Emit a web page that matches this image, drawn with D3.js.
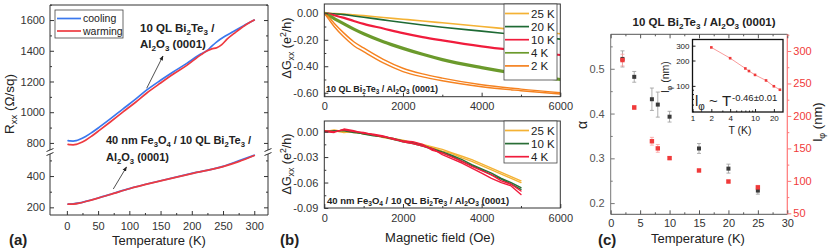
<!DOCTYPE html>
<html>
<head>
<meta charset="utf-8">
<script src="https://cdn.jsdelivr.net/npm/d3@7"></script>
<style>
body { margin: 0; background: #fff; }
svg { display: block; font-family: "Liberation Sans", Arial, sans-serif; }
</style>
</head>
<body>
<script>
// ---------- (a) sheet resistance vs temperature ----------
var upCoolT = [2, 5, 10, 15, 20, 30, 40, 53, 70, 90, 110, 128, 150, 170, 192, 215, 224, 232, 240, 253, 266, 283, 300];
var upCoolR = [815, 813, 812, 815, 822, 842, 868, 906, 958, 1022, 1085, 1145, 1208, 1262, 1318, 1380, 1400, 1430, 1458, 1494, 1524, 1563, 1600];
var upWarmT = [2, 5, 10, 15, 20, 30, 40, 53, 70, 90, 110, 128, 150, 170, 192, 215, 224, 232, 240, 248, 256, 270, 285, 300];
var upWarmR = [791, 789, 788, 791, 798, 818, 845, 885, 938, 1002, 1065, 1125, 1190, 1247, 1305, 1375, 1398, 1412, 1420, 1440, 1474, 1520, 1565, 1600];
var loCoolT = [2, 10, 20, 30, 50, 75, 100, 150, 200, 250, 275, 300];
var loCoolR = [221, 222, 228, 238, 260, 290, 320, 370, 417, 462, 497, 533];
var loWarmT = [2, 10, 20, 30, 50, 75, 100, 150, 200, 250, 275, 300];
var loWarmR = [220, 221, 227, 237, 259, 289, 319, 369, 416, 460, 492, 531];
var aTempTicks = [0, 50, 100, 150, 200, 250, 300];
var aUpTicks = [800, 1000, 1200, 1400, 1600];
var aLoTicks = [200, 400];

// ---------- (b) magnetoconductance ----------
var bFieldTop = [0, 100, 250, 500, 750, 1000, 1500, 2000, 2500, 3000, 4000, 5000, 6000];
var bTopNames = ['25 K', '20 K', '10 K', '4 K', '2 K'];
var g25K = [0, 0, -0.002, -0.006, -0.012, -0.018, -0.032, -0.045, -0.058, -0.072, -0.1, -0.128, -0.155];
var g20K = [0, -0.001, -0.004, -0.01, -0.02, -0.03, -0.05, -0.07, -0.088, -0.105, -0.135, -0.165, -0.195];
var g10K = [0, -0.004, -0.015, -0.035, -0.058, -0.08, -0.115, -0.15, -0.18, -0.205, -0.25, -0.285, -0.315];
var g4K = [0, -0.015, -0.04, -0.08, -0.12, -0.155, -0.215, -0.265, -0.31, -0.35, -0.41, -0.46, -0.5];
var g2Ka = [0, -0.04, -0.1, -0.18, -0.245, -0.29, -0.375, -0.44, -0.48, -0.51, -0.555, -0.585, -0.61];
var g2Kb = [0, -0.025, -0.075, -0.15, -0.215, -0.262, -0.348, -0.415, -0.458, -0.49, -0.54, -0.573, -0.6];

var bFieldBot = [0, 250, 500, 750, 1000, 1250, 1500, 1750, 2000, 2250, 2500, 2750, 3000, 3250, 3500, 3750, 4000, 4250, 4500, 4750, 5000];
var bBotNames = ['25 K', '10 K', '4 K'];
var f25Ka = [0, 0.002, 0.000, -0.001, -0.002, -0.004, -0.006, -0.008, -0.010, -0.013, -0.015, -0.018, -0.021, -0.025, -0.029, -0.033, -0.038, -0.043, -0.048, -0.053, -0.058];
var f25Kb = [0.001, 0.001, -0.001, 0.000, -0.003, -0.004, -0.007, -0.009, -0.011, -0.013, -0.016, -0.019, -0.023, -0.026, -0.031, -0.035, -0.040, -0.045, -0.050, -0.055, -0.060];
var f10Ka = [0, 0.001, 0.001, -0.001, -0.002, -0.004, -0.006, -0.008, -0.011, -0.013, -0.016, -0.020, -0.024, -0.028, -0.033, -0.039, -0.044, -0.049, -0.055, -0.060, -0.066];
var f10Kb = [0, 0, 0.002, 0, -0.003, -0.005, -0.006, -0.009, -0.012, -0.014, -0.017, -0.021, -0.025, -0.029, -0.035, -0.040, -0.045, -0.051, -0.056, -0.062, -0.068];
var f4Ka = [0, -0.001, 0.003, 0.001, -0.002, -0.003, -0.005, -0.009, -0.011, -0.012, -0.015, -0.022, -0.025, -0.030, -0.035, -0.041, -0.046, -0.051, -0.058, -0.062, -0.070];
var f4Kb = [0.001, 0, 0.002, 0, -0.001, -0.004, -0.006, -0.008, -0.012, -0.014, -0.017, -0.020, -0.027, -0.032, -0.037, -0.043, -0.049, -0.055, -0.060, -0.064, -0.074];

// ---------- (c) alpha and phase coherence length ----------
var cTemp = [2, 4, 7, 8, 10, 15, 20, 25];
var alpha = [0.522, 0.482, 0.432, 0.42, 0.393, 0.322, 0.277, 0.228];
var alphaErr = [0.018, 0.012, 0.025, 0.028, 0.012, 0.011, 0.01, 0.008];
var lphi = [286, 213, 161, 150, 135, 116, 99, 90];
var lphiErr = [9, 3, 6, 6, 2, 2, 2, 3];

var svg = d3.select('body').append('svg').attr('width', 830).attr('height', 252);
svg.append('rect').attr('width', 830).attr('height', 252).attr('fill', '#fff');

/*
/	HELPERS
*/
// tiny markup: _{sub} and ^{sup}, shifted with dy in px of the parent size
function rich(t, s, size, subSize) {
	var re = /([_^])\{([^}]*)\}|([^_^]+)/g, m, back = 0;
	var ss = subSize || size * 0.7;
	while ((m = re.exec(s))) {
		if (m[3]) {
			t.append('tspan').attr('dy', back).text(m[3]);
			back = 0;
		} else {
			var d = m[1] == '_' ? size * 0.25 : -size * 0.38;
			t.append('tspan').attr('dy', back + d).attr('font-size', ss).text(m[2]);
			back = -d;
		}
	}
	return t;
}
function label(par, x, y, s, size, opt) {
	opt = opt || {};
	var t = par.append('text')
		.attr('x', x).attr('y', y)
		.attr('font-size', size)
		.attr('font-weight', opt.bold ? 700 : 400)
		.attr('fill', opt.color || '#222')
		.attr('text-anchor', opt.anchor || 'start');
	if (opt.rotate) t.attr('transform', 'rotate(-90,' + x + ',' + y + ')');
	return rich(t, s, size, opt.sub);
}
function axis(par, make, scale, tx, ty, major, fmt, minor, tick, opt) {
	opt = opt || {};
	var g = par.append('g').attr('transform', 'translate(' + tx + ',' + ty + ')');
	g.call(make(scale).tickValues(major).tickFormat(fmt).tickSizeInner(tick).tickSizeOuter(0).tickPadding(opt.pad || 3));
	if (minor) g.append('g').call(make(scale).tickValues(minor).tickFormat(function() { return ''; }).tickSizeInner(tick / 2).tickSizeOuter(0));
	g.selectAll('.domain').remove();
	g.attr('font-family', null).attr('font-size', null);
	g.selectAll('g').attr('font-family', null).attr('font-size', null);
	g.selectAll('line').attr('stroke', opt.color || '#333');
	g.selectAll('text').attr('font-size', opt.fs || 11).attr('fill', opt.tcolor || '#333');
	return g;
}
function frame(par, x0, y0, x1, y1, col, w) {
	par.append('rect').attr('x', x0).attr('y', y0).attr('width', x1 - x0).attr('height', y1 - y0)
		.attr('fill', 'none').attr('stroke', col || '#333').attr('stroke-width', w || 1);
}
function curve(par, xs, ys, sx, sy, col, w, kind) {
	par.append('path')
		.datum(d3.zip(xs, ys))
		.attr('d', d3.line().x(function(d) { return sx(d[0]); }).y(function(d) { return sy(d[1]); }).curve(kind || d3.curveMonotoneX))
		.attr('fill', 'none').attr('stroke', col).attr('stroke-width', w)
		.attr('stroke-linejoin', 'round').attr('stroke-linecap', 'round');
}
function arrow(par, x1, y1, x2, y2) {
	par.append('line').attr('x1', x1).attr('y1', y1).attr('x2', x2).attr('y2', y2)
		.attr('stroke', '#222').attr('stroke-width', 0.8).attr('marker-end', 'url(#arr)');
}
svg.append('defs').append('marker').attr('id', 'arr')
	.attr('viewBox', '0 0 10 10').attr('refX', 9).attr('refY', 5)
	.attr('markerWidth', 6).attr('markerHeight', 6).attr('orient', 'auto')
	.append('path').attr('d', 'M0,1L10,5L0,9Z').attr('fill', '#222');
var range = function(a, b, s) { return d3.range(a, b + s / 2, s); };

/*
/	PANEL (a)
*/
var aG = svg.append('g');
var aX = d3.scaleLinear().domain([-27, 322]).range([50, 268]);
var aYU = d3.scaleLinear().domain([754, 1698]).range([150, 5]);
var aYL = d3.scaleLinear().domain([151, 541]).range([215, 154]);
var aL = aX.range()[0], aR = aX.range()[1], aTop = aYU.range()[1], aBot = aYL.range()[0];
var brkA = aYU.range()[0], brkB = aYL.range()[1];

aG.append('path')
	.attr('d', 'M' + aL + ',' + brkA + 'V' + aTop + 'H' + aR + 'V' + brkA +
		'M' + aL + ',' + brkB + 'V' + aBot + 'H' + aR + 'V' + brkB)
	.attr('fill', 'none').attr('stroke', '#333');
[aL, aR].forEach(function(x) {
	[brkA, brkB].forEach(function(y) {
		aG.append('line').attr('x1', x - 3.5).attr('y1', y + 1.5).attr('x2', x + 3.5).attr('y2', y - 1.5)
			.attr('stroke', '#333').attr('stroke-width', 1);
	});
});

axis(aG, d3.axisBottom, aX, 0, aBot, aTempTicks, d3.format('d'), range(25, 300, 50), -4, {pad: 7});
axis(aG, d3.axisLeft, aYU, aL, 0, aUpTicks, d3.format('d'), range(900, 1700, 200), -4, {pad: 5});
axis(aG, d3.axisLeft, aYL, aL, 0, aLoTicks, d3.format('d'), [300, 500], -4, {pad: 5});
axis(aG, d3.axisRight, aYU, aR, 0, aUpTicks, function() { return ''; }, range(900, 1700, 200), -4);
axis(aG, d3.axisRight, aYL, aR, 0, aLoTicks, function() { return ''; }, [300, 500], -4);

curve(aG, upCoolT, upCoolR, aX, aYU, '#3a78ee', 1.7);
curve(aG, upWarmT, upWarmR, aX, aYU, '#ee3a40', 1.7);
curve(aG, loCoolT, loCoolR, aX, aYL, '#3a78ee', 1.7);
curve(aG, loWarmT, loWarmR, aX, aYL, '#ee3a40', 1.7);

// legend
aG.append('rect').attr('x', 55).attr('y', 10).attr('width', 68).attr('height', 28)
	.attr('fill', '#fff').attr('stroke', '#444').attr('stroke-width', 0.8);
[['cooling', '#3a78ee'], ['warming', '#ee3a40']].forEach(function(d, i) {
	var y = 18.5 + i * 12.5;
	aG.append('line').attr('x1', 57).attr('x2', 81).attr('y1', y).attr('y2', y).attr('stroke', d[1]).attr('stroke-width', 1.7);
	label(aG, 83, y + 3.6, d[0], 10.5);
});

label(aG, 140, 32, '10 QL Bi_{2}Te_{3} /', 11.5, {bold: true});
label(aG, 140, 48, 'Al_{2}O_{3} (0001)', 11.5, {bold: true});
arrow(aG, 146.7, 88.3, 163, 56);
label(aG, 106, 144, '40 nm Fe_{3}O_{4} / 10 QL Bi_{2}Te_{3} /', 11, {bold: true});
label(aG, 106, 161, 'Al_{2}O_{3} (0001)', 11, {bold: true});
arrow(aG, 113.3, 189, 126.5, 167);

label(aG, 14, 104, 'R_{xx} (Ω/sq)', 13.5, {rotate: true, anchor: 'middle'});
label(aG, 159, 245, 'Temperature (K)', 13, {anchor: 'middle'});
label(aG, 9, 245, '(a)', 15, {bold: true});

/*
/	PANEL (b)
*/
var bG = svg.append('g');
var bX = d3.scaleLinear().domain([0, 6000]).range([324.3, 560.3]);
var bYT = d3.scaleLinear().domain([-0.63, 0.07]).range([96.7, 4]);
var bYB = d3.scaleLinear().domain([-0.09, 0.0125]).range([208, 121]);
var bL = bX.range()[0], bR = bX.range()[1];

bG.append('clipPath').attr('id', 'clipT').append('rect')
	.attr('x', bL).attr('y', bYT.range()[1]).attr('width', bR - bL).attr('height', bYT.range()[0] - bYT.range()[1]);
bG.append('clipPath').attr('id', 'clipB').append('rect')
	.attr('x', bL).attr('y', bYB.range()[1]).attr('width', bR - bL).attr('height', bYB.range()[0] - bYB.range()[1]);

var bColTop = ['#f4b234', '#1e6a34', '#f01c3c', '#6b9a2c', '#f58220'];
var bT = bG.append('g').attr('clip-path', 'url(#clipT)');
curve(bT, bFieldTop, g25K, bX, bYT, bColTop[0], 1.6);
curve(bT, bFieldTop, g20K, bX, bYT, bColTop[1], 1.6);
curve(bT, bFieldTop, g10K, bX, bYT, bColTop[2], 2.2);
curve(bT, bFieldTop, g4K, bX, bYT, bColTop[3], 3.2);
curve(bT, bFieldTop, g2Ka, bX, bYT, bColTop[4], 1.4);
curve(bT, bFieldTop, g2Kb, bX, bYT, bColTop[4], 1.4);

var bColBot = ['#f4b234', '#2a6e36', '#f01c3c'];
var bB = bG.append('g').attr('clip-path', 'url(#clipB)');
curve(bB, bFieldBot, f25Ka, bX, bYB, bColBot[0], 1.4, d3.curveLinear);
curve(bB, bFieldBot, f25Kb, bX, bYB, bColBot[0], 1.4, d3.curveLinear);
curve(bB, bFieldBot, f10Ka, bX, bYB, bColBot[1], 1.4, d3.curveLinear);
curve(bB, bFieldBot, f10Kb, bX, bYB, bColBot[1], 1.4, d3.curveLinear);
curve(bB, bFieldBot, f4Ka, bX, bYB, bColBot[2], 1.4, d3.curveLinear);
curve(bB, bFieldBot, f4Kb, bX, bYB, bColBot[2], 1.4, d3.curveLinear);

frame(bG, bL, bYT.range()[1], bR, bYT.range()[0]);
frame(bG, bL, bYB.range()[1], bR, bYB.range()[0]);
var fmtB = d3.format('.2f');
var fmtNeg = function(d) { return fmtB(d).replace('−', '-'); };
axis(bG, d3.axisLeft, bYT, bL, 0, [0, -0.2, -0.4, -0.6], fmtNeg, [-0.1, -0.3, -0.5], -4, {pad: 6});
axis(bG, d3.axisBottom, bX, 0, bYT.range()[0], [0, 2000, 4000, 6000], d3.format('d'), [1000, 3000, 5000], -4, {pad: 6});
axis(bG, d3.axisLeft, bYB, bL, 0, [0, -0.03, -0.06, -0.09], fmtNeg, [-0.015, -0.045, -0.075], -4, {pad: 6});
axis(bG, d3.axisBottom, bX, 0, bYB.range()[0], [0, 2000, 4000, 6000], d3.format('d'), [1000, 3000, 5000], -4, {pad: 6});

function bLegend(y0, h, names, cols) {
	bG.append('rect').attr('x', 504).attr('y', y0).attr('width', 53).attr('height', h)
		.attr('fill', '#fff').attr('stroke', '#444').attr('stroke-width', 0.8);
	names.forEach(function(n, i) {
		var y = y0 + 9.5 + i * 13.1;
		bG.append('line').attr('x1', 505).attr('x2', 529).attr('y1', y).attr('y2', y)
			.attr('stroke', cols[i]).attr('stroke-width', 1.7);
		label(bG, 531, y + 4, n, 11.5);
	});
}
bLegend(4, 76, bTopNames, bColTop);
bLegend(121, 42, bBotNames, bColBot);

label(bG, 326, 92, '10 QL Bi_{2}Te_{3} / Al_{2}O_{3} (0001)', 9, {bold: true});
label(bG, 327, 203.5, '40 nm Fe_{3}O_{4} / 10 QL Bi_{2}Te_{3} / Al_{2}O_{3} (0001)', 9.5, {bold: true});
label(bG, 291, 48, 'ΔG_{xx} (e^{2}/h)', 12.5, {rotate: true, anchor: 'middle'});
label(bG, 291, 164, 'ΔG_{xx} (e^{2}/h)', 12.5, {rotate: true, anchor: 'middle'});
label(bG, 440, 242, 'Magnetic field (Oe)', 13, {anchor: 'middle'});
label(bG, 280, 245, '(b)', 15, {bold: true});

/*
/	PANEL (c)
*/
var cG = svg.append('g');
var cX = d3.scaleLinear().domain([0, 30]).range([610.7, 787.3]);
var cYa = d3.scaleLinear().domain([0.175, 0.577]).range([214.3, 34.3]);
var cYl = d3.scaleLinear().domain([48.5, 325.7]).range([214.3, 34.3]);
var cL = cX.range()[0], cR = cX.range()[1], cTop = cYa.range()[1], cBot = cYa.range()[0];
var red = '#f03a3a';

cG.append('line').attr('x1', cL).attr('x2', cR).attr('y1', cTop).attr('y2', cTop).attr('stroke', '#555');
cG.append('line').attr('x1', cL).attr('x2', cR).attr('y1', cBot).attr('y2', cBot).attr('stroke', '#555');
cG.append('line').attr('x1', cL).attr('x2', cL).attr('y1', cTop).attr('y2', cBot).attr('stroke', '#777');
cG.append('line').attr('x1', cR).attr('x2', cR).attr('y1', cTop).attr('y2', cBot).attr('stroke', '#f77').attr('stroke-width', 1.2);

axis(cG, d3.axisBottom, cX, 0, cBot, range(0, 30, 5), d3.format('d'), range(2.5, 27.5, 5), -4, {pad: 5, color: '#555'});
axis(cG, d3.axisTop, cX, 0, cTop, range(0, 30, 5), function() { return ''; }, range(2.5, 27.5, 5), -4, {color: '#555'});
axis(cG, d3.axisLeft, cYa, cL, 0, [0.2, 0.3, 0.4, 0.5], d3.format('.1f'), [0.25, 0.35, 0.45, 0.55], -4, {pad: 6, color: '#777', tcolor: '#555'});
axis(cG, d3.axisRight, cYl, cR, 0, range(50, 300, 50), d3.format('d'), range(75, 325, 50), 4, {pad: 2, color: '#f77', tcolor: red});

// error bars + markers
cTemp.forEach(function(t, i) {
	var x = cX(t);
	[[alpha[i], alphaErr[i], cYa, '#999'], [lphi[i], lphiErr[i], cYl, '#f9a0a0']].forEach(function(s) {
		var y0 = s[2](s[0] - s[1]), y1 = s[2](s[0] + s[1]);
		cG.append('line').attr('x1', x).attr('x2', x).attr('y1', y0).attr('y2', y1).attr('stroke', s[3]).attr('stroke-width', 0.8);
		[y0, y1].forEach(function(y) {
			cG.append('line').attr('x1', x - 2).attr('x2', x + 2).attr('y1', y).attr('y2', y).attr('stroke', s[3]).attr('stroke-width', 0.8);
		});
	});
});
cG.selectAll('rect.al').data(d3.zip(cTemp, alpha)).enter().append('rect')
	.attr('x', function(d) { return cX(d[0]) - 2; }).attr('y', function(d) { return cYa(d[1]) - 2; })
	.attr('width', 4).attr('height', 4).attr('fill', '#3a3a3a');
cG.selectAll('rect.lp').data(d3.zip(cTemp, lphi)).enter().append('rect')
	.attr('x', function(d) { return cX(d[0]) - 2.2; }).attr('y', function(d) { return cYl(d[1]) - 2.2; })
	.attr('width', 4.4).attr('height', 4.4).attr('fill', red);

// inset
var iX = d3.scaleLog().domain([1, 28]).range([692.5, 783]);
var iY = d3.scaleLog().domain([49, 355]).range([112, 39.5]);
var iL = iX.range()[0], iR = iX.range()[1], iTop = iY.range()[1], iBot = iY.range()[0];
cG.append('rect').attr('x', iL).attr('y', iTop).attr('width', iR - iL).attr('height', iBot - iTop).attr('fill', '#fff');
axis(cG, d3.axisBottom, iX, 0, iBot, [1, 2, 4, 10, 20], d3.format('d'), [3, 5, 6, 7, 8, 9], -3, {pad: 3, fs: 8, color: '#222', tcolor: '#222'});
axis(cG, d3.axisLeft, iY, iL, 0, [100, 200, 300], d3.format('d'), [50, 60, 70, 80, 90], -3, {pad: 3, fs: 8, color: '#222', tcolor: '#222'});
curve(cG, cTemp, lphi, iX, iY, '#f79090', 0.9, d3.curveLinear);
cG.selectAll('rect.in').data(d3.zip(cTemp, lphi)).enter().append('rect')
	.attr('x', function(d) { return iX(d[0]) - 1.3; }).attr('y', function(d) { return iY(d[1]) - 1.3; })
	.attr('width', 2.6).attr('height', 2.6).attr('fill', red);
frame(cG, iL, iTop, iR, iBot, '#111', 1.3);
label(cG, 695, 106, 'l_{φ} ~ T', 15, {sub: 10});
label(cG, 732, 101, '-0.46±0.01', 9.5);
label(cG, 669, 77, 'l_{φ} (nm)', 10.5, {rotate: true, anchor: 'middle'});
label(cG, 740, 134, 'T (K)', 10.5, {anchor: 'middle'});

label(cG, 704, 26, '10 QL Bi_{2}Te_{3} / Al_{2}O_{3} (0001)', 11.5, {bold: true, anchor: 'middle'});
label(cG, 587, 125, 'α', 14, {rotate: true, anchor: 'middle'});
label(cG, 822, 122, 'l_{φ} (nm)', 13, {rotate: true, anchor: 'middle'});
label(cG, 698, 243, 'Temperature (K)', 13, {anchor: 'middle'});
label(cG, 598, 245, '(c)', 15, {bold: true});
</script>
</body>
</html>
